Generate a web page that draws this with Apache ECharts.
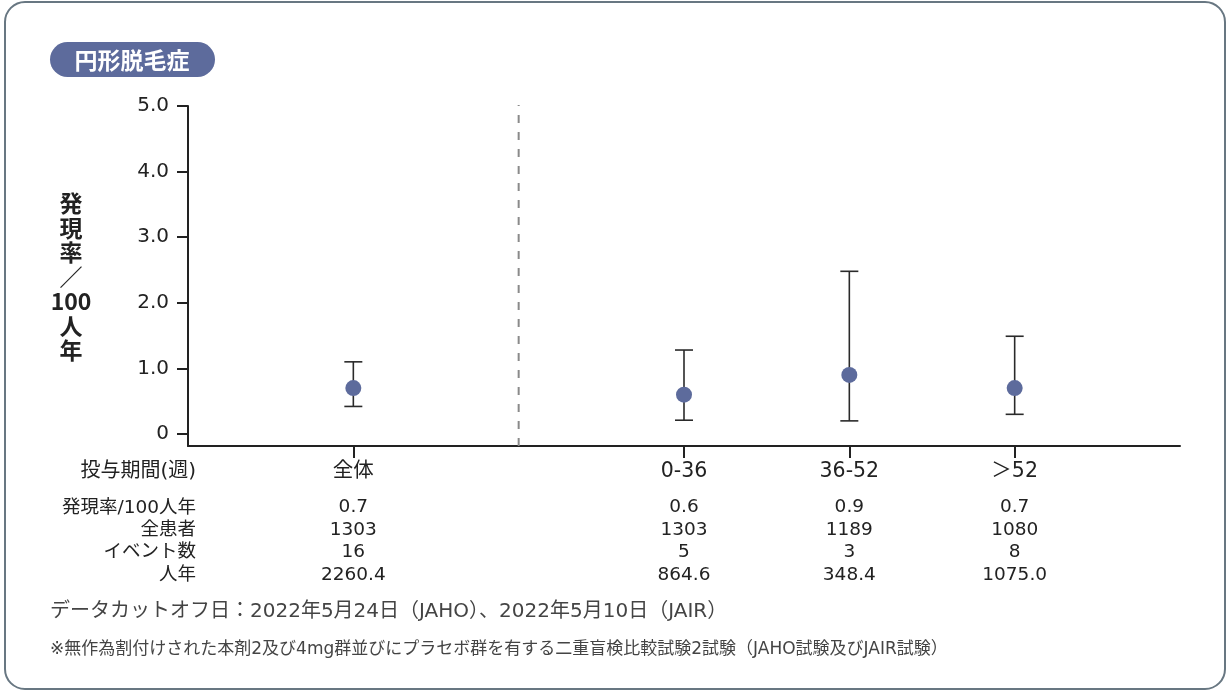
<!DOCTYPE html>
<html><head><meta charset="utf-8">
<script src="https://cdn.jsdelivr.net/npm/echarts@6/dist/echarts.min.js"></script>
<style>html,body{margin:0;padding:0;background:#fff}#c{width:1230px;height:691px}</style>
</head><body><div id="c"></div>
<script>
const title = '円形脱毛症';
const yName = '発\n現\n率\n／\n100\n人\n年';
const categories = ['全体', '0-36', '36-52', '＞52'];
const catPos = [1, 3, 4, 5];
const rates = [0.7, 0.6, 0.9, 0.7];
const lowerCI = [0.42, 0.21, 0.2, 0.3];
const upperCI = [1.1, 1.28, 2.48, 1.49];
const patients = ['1303', '1303', '1189', '1080'];
const events = ['16', '5', '3', '8'];
const personYears = ['2260.4', '864.6', '348.4', '1075.0'];
const rateLabels = ['0.7', '0.6', '0.9', '0.7'];
const rowLabels = ['投与期間(週)', '発現率/100人年', '全患者', 'イベント数', '人年'];
const yTicks = [0, 1, 2, 3, 4, 5];
const dividerPos = 2;
const footnote1 = 'データカットオフ日：2022年5月24日（JAHO）、2022年5月10日（JAIR）';
const footnote2 = '※無作為割付けされた本剤2及び4mg群並びにプラセボ群を有する二重盲検比較試験2試験（JAHO試験及びJAIR試験）';

const FONT = '"Noto Sans CJK JP", "Noto Sans", sans-serif';
const LFONT = '"DejaVu Sans", "Noto Sans CJK JP", sans-serif';
const chart = echarts.init(document.getElementById('c'));

const pointData = catPos.map((x, i) => [x, rates[i]]);
const errData = catPos.map((x, i) => [x, lowerCI[i], upperCI[i]]);

const option = {
  animation: false,
  textStyle: { fontFamily: LFONT },
  grid: { left: 188, top: 106, width: 992, height: 340 },
  xAxis: {
    type: 'value', min: 0, max: 6,
    splitLine: { show: false },
    axisLine: { show: true, onZero: false, lineStyle: { color: '#222', width: 2 } },
    axisTick: { show: true, customValues: catPos, length: 12, lineStyle: { color: '#222', width: 2 } },
    axisLabel: {
      show: true, customValues: catPos, margin: 2, color: '#222', fontFamily: LFONT,
      formatter: function (v) {
        const i = catPos.indexOf(v);
        if (i < 0) return '';
        return '{a|' + categories[i] + '}\n{b|' + rateLabels[i] + '}\n{b|' + patients[i] + '}\n{b|' + events[i] + '}\n{b|' + personYears[i] + '}';
      },
      rich: {
        a: { fontSize: 20.5, lineHeight: 48, color: '#222', fontFamily: LFONT },
        b: { fontSize: 18.5, lineHeight: 22.5, color: '#222', fontFamily: LFONT }
      }
    }
  },
  yAxis: {
    type: 'value', min: -0.183, max: 5,
    splitLine: { show: false },
    axisLine: { show: true, lineStyle: { color: '#222', width: 2 } },
    axisTick: { show: true, customValues: yTicks, length: 11, lineStyle: { color: '#222', width: 2 } },
    axisLabel: {
      show: true, customValues: yTicks, margin: 19, fontSize: 20, color: '#222', fontFamily: LFONT,
      formatter: v => v === 0 ? '0' : v.toFixed(1)
    }
  },
  series: [
    {
      type: 'custom',
      data: errData,
      renderItem: function (params, api) {
        const x = api.value(0);
        const lo = api.coord([x, api.value(1)]);
        const hi = api.coord([x, api.value(2)]);
        const hw = 9;
        const st = { stroke: '#2a2a2a', lineWidth: 1.6 };
        return {
          type: 'group',
          children: [
            { type: 'line', shape: { x1: lo[0], y1: lo[1], x2: hi[0], y2: hi[1] }, style: st },
            { type: 'line', shape: { x1: lo[0] - hw, y1: lo[1], x2: lo[0] + hw, y2: lo[1] }, style: st },
            { type: 'line', shape: { x1: hi[0] - hw, y1: hi[1], x2: hi[0] + hw, y2: hi[1] }, style: st }
          ]
        };
      },
      z: 2
    },
    {
      type: 'scatter',
      data: pointData,
      symbol: 'circle',
      symbolSize: 16,
      itemStyle: { color: '#5d6b9c', opacity: 1 },
      z: 3
    },
    {
      type: 'line',
      data: [[dividerPos, -0.183], [dividerPos, 5.05]],
      symbol: 'none',
      lineStyle: { color: '#8a8a8a', width: 2, type: [8, 9] },
      z: 1
    }
  ],
  graphic: [
    { type: 'rect', shape: { x: 5, y: 2, width: 1220, height: 687, r: 20 }, style: { fill: 'none', stroke: '#687782', lineWidth: 2 }, silent: true },
    { type: 'rect', shape: { x: 50, y: 42, width: 165, height: 35, r: 17.5 }, style: { fill: '#5d6b9c' } },
    { type: 'text', x: 132, y: 60, style: { text: title, fill: '#fff', font: 'bold 23px ' + FONT, align: 'center', verticalAlign: 'middle' } },
    { type: 'text', x: 71, y: 277, style: { text: yName, fill: '#222', font: 'bold 23px ' + FONT, align: 'center', verticalAlign: 'middle', lineHeight: 24.5 } },
    { type: 'text', x: 196, y: 472, style: { text: rowLabels[0], fill: '#222', font: '20px ' + LFONT, align: 'right', verticalAlign: 'middle' } },
    { type: 'text', x: 196, y: 508, style: { text: rowLabels[1], fill: '#222', font: '18.5px ' + LFONT, align: 'right', verticalAlign: 'middle' } },
    { type: 'text', x: 196, y: 530, style: { text: rowLabels[2], fill: '#222', font: '18.5px ' + LFONT, align: 'right', verticalAlign: 'middle' } },
    { type: 'text', x: 196, y: 552, style: { text: rowLabels[3], fill: '#222', font: '18.5px ' + LFONT, align: 'right', verticalAlign: 'middle' } },
    { type: 'text', x: 196, y: 575, style: { text: rowLabels[4], fill: '#222', font: '18.5px ' + LFONT, align: 'right', verticalAlign: 'middle' } },
    { type: 'text', x: 50, y: 612, style: { text: footnote1, fill: '#444', font: '20px ' + LFONT, verticalAlign: 'middle' } },
    { type: 'text', x: 50, y: 650, style: { text: footnote2, fill: '#444', font: '17px ' + LFONT, verticalAlign: 'middle' } }
  ]
};
chart.setOption(option);
</script>
</body></html>
